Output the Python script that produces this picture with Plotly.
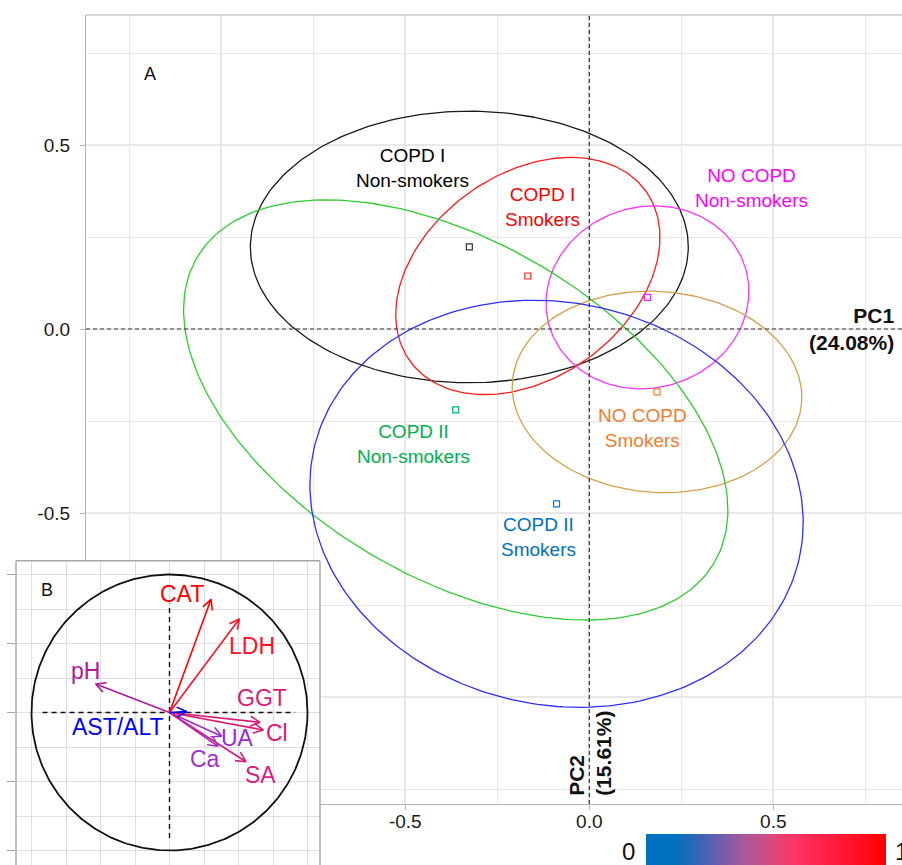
import numpy as np
import plotly.graph_objects as go

# ---------------- Panel A: PCA group summaries ----------------
group_labels = ["COPD I<br>Non-smokers", "COPD I<br>Smokers", "NO COPD<br>Non-smokers",
                "NO COPD<br>Smokers", "COPD II<br>Non-smokers", "COPD II<br>Smokers"]
pc1_centroid = [-0.326, -0.167, 0.158, 0.184, -0.363, -0.089]
pc2_centroid = [0.223, 0.144, 0.086, -0.171, -0.220, -0.475]
ellipse_major = [0.595, 0.395, 0.278, 0.394, 0.816, 0.676]
ellipse_minor = [0.369, 0.277, 0.246, 0.273, 0.455, 0.546]
ellipse_angle_deg = [0.0, 35.8, 16.0, -4.0, -30.6, -12.8]

axis_tick_vals = [-1.0, -0.5, 0.0, 0.5]
axis_tick_text = ["", "-0.5", "0.0", "0.5"]
variance_pc1 = "24.08%"
variance_pc2 = "15.61%"

# ---------------- Panel B: variable loadings ----------------
variables = ["CAT", "LDH", "pH", "GGT", "Cl", "UA", "Ca", "SA", "AST/ALT"]
load_pc1 = [0.301, 0.506, -0.535, 0.656, 0.680, 0.378, 0.352, 0.554, 0.125]
load_pc2 = [0.820, 0.678, 0.207, -0.071, -0.127, -0.172, -0.245, -0.357, 0.006]
contrib_range = [0, 1]

# ---------------- styling ----------------
FONT = "Liberation Sans, Arial, sans-serif"
ellipse_colors = ["#1a1a1a", "#FF1A1A", "#FF33FF", "#D4A04A", "#2ECC2E", "#2E2EFF"]
label_colors = ["#000000", "#FF0000", "#FF00FF", "#F07D2E", "#00B050", "#0070C0"]
point_colors = ["#333333", "#FF2020", "#FF20FF", "#F08030", "#00B070", "#0080D0"]
label_x = [-0.4815, -0.127, 0.441, 0.145, -0.4775, -0.137]
label_y = [0.437, 0.332, 0.382, -0.269, -0.312, -0.564]

var_colors = ["#FF0000", "#FF1028", "#B0189E", "#D81B78", "#E0186C", "#9A2CD0",
              "#A030D0", "#D81E80", "#0000FF"]
var_label_x = [0.088, 0.601, -0.612, 0.672, 0.779, 0.496, 0.259, 0.659, -0.375]
var_label_y = [0.861, 0.484, 0.303, 0.103, -0.150, -0.187, -0.338, -0.453, -0.103]

cbar_scale = [[0.0, "#0070C0"], [0.12, "#0070C0"], [0.25, "#4A62B2"], [0.4, "#A55AA0"],
              [0.52, "#D84A80"], [0.62, "#FF3366"], [0.8, "#FF1A3A"], [1.0, "#FF0000"]]

W, H = 902, 865
MAIN_L, MAIN_T, MAIN_B = 86, 15, 804
INS_L, INS_R, INS_T = 16, 320, 560.7

fig = go.Figure()

# confidence ellipses and centroids
t = np.linspace(0, 2 * np.pi, 241)
for i in range(len(group_labels)):
    th = np.deg2rad(ellipse_angle_deg[i])
    a, b = ellipse_major[i], ellipse_minor[i]
    ex = pc1_centroid[i] + a * np.cos(t) * np.cos(th) - b * np.sin(t) * np.sin(th)
    ey = pc2_centroid[i] + a * np.cos(t) * np.sin(th) + b * np.sin(t) * np.cos(th)
    fig.add_trace(go.Scatter(x=ex, y=ey, mode="lines",
                             line=dict(color=ellipse_colors[i], width=1.3),
                             hoverinfo="skip", xaxis="x", yaxis="y"))
    fig.add_trace(go.Scatter(x=[pc1_centroid[i]], y=[pc2_centroid[i]], mode="markers",
                             marker=dict(symbol="square-open", size=6,
                                         color=point_colors[i], line=dict(width=1.2)),
                             xaxis="x", yaxis="y"))
    fig.add_annotation(x=label_x[i], y=label_y[i], xref="x", yref="y",
                       text=group_labels[i], showarrow=False, align="center",
                       font=dict(family=FONT, size=19, color=label_colors[i]))

# correlation circle
tc = np.linspace(0, 2 * np.pi, 361)
fig.add_trace(go.Scatter(x=np.cos(tc), y=np.sin(tc), mode="lines",
                         line=dict(color="#111111", width=1.8),
                         hoverinfo="skip", xaxis="x2", yaxis="y2"))
fig.add_trace(go.Scatter(x=[-0.92, 0.91], y=[0, 0], mode="lines",
                         line=dict(color="#111111", width=1.4, dash="5px,4px"),
                         hoverinfo="skip", xaxis="x2", yaxis="y2"))
fig.add_trace(go.Scatter(x=[0, 0], y=[-0.91, 0.79], mode="lines",
                         line=dict(color="#111111", width=1.4, dash="5px,4px"),
                         hoverinfo="skip", xaxis="x2", yaxis="y2"))

# loading arrows with open heads
head_len, head_ang = 0.08, np.deg2rad(27)
for i, v in enumerate(variables):
    tx, ty = load_pc1[i], load_pc2[i]
    d = np.arctan2(ty, tx)
    h1 = (tx - head_len * np.cos(d - head_ang), ty - head_len * np.sin(d - head_ang))
    h2 = (tx - head_len * np.cos(d + head_ang), ty - head_len * np.sin(d + head_ang))
    fig.add_trace(go.Scatter(x=[0, tx, None, h1[0], tx, h2[0]],
                             y=[0, ty, None, h1[1], ty, h2[1]], mode="lines",
                             line=dict(color=var_colors[i], width=1.6),
                             hoverinfo="skip", xaxis="x2", yaxis="y2"))
    fig.add_annotation(x=var_label_x[i], y=var_label_y[i], xref="x2", yref="y2",
                       text=v, showarrow=False,
                       font=dict(family=FONT, size=23, color=var_colors[i]))

# colour key for the loadings
fig.add_trace(go.Scatter(
    x=[0, 0], y=[0, 0], mode="markers", xaxis="x2", yaxis="y2", hoverinfo="skip",
    marker=dict(size=1, opacity=0, color=contrib_range, colorscale=cbar_scale,
                cmin=contrib_range[0], cmax=contrib_range[1], showscale=True,
                colorbar=dict(orientation="h", x=766 / W, xanchor="center",
                              len=240 / W, lenmode="fraction", y=1 - 834 / H,
                              yanchor="top", thickness=40, xpad=0, ypad=0,
                              outlinewidth=0, showticklabels=False, ticks=""))))

fig.add_annotation(x=628.7 / W, y=1 - 851 / H, xref="paper", yref="paper",
                   text=str(contrib_range[0]), showarrow=False, xanchor="center",
                   yanchor="middle", font=dict(family=FONT, size=24, color="#111111"))
fig.add_annotation(x=893 / W, y=1 - 851 / H, xref="paper", yref="paper",
                   text=str(contrib_range[1]), showarrow=False, xanchor="left",
                   yanchor="middle", font=dict(family=FONT, size=24, color="#111111"))

# axis titles placed on the dashed reference lines
fig.add_annotation(x=897 / W, y=0, xref="paper", yref="y",
                   text=f"<b>PC1</b><br><b>({variance_pc1})</b>", showarrow=False,
                   xanchor="right", yanchor="middle", align="right",
                   font=dict(family=FONT, size=21, color="#111111"))
fig.add_annotation(x=0, y=(329 - 798) / 368, xref="x", yref="y",
                   text=f"<b>PC2</b><br><b>({variance_pc2})</b>", showarrow=False,
                   textangle=-90, xanchor="center", yanchor="bottom", align="left",
                   font=dict(family=FONT, size=21, color="#111111"))

# panel letters
fig.add_annotation(x=-1.195, y=0.694, xref="x", yref="y", text="A", showarrow=False,
                   font=dict(family=FONT, size=18, color="#111111"))
fig.add_annotation(x=-0.888, y=0.888, xref="x2", yref="y2", text="B", showarrow=False,
                   font=dict(family=FONT, size=18, color="#111111"))

shapes = [
    # dashed zero lines of panel A
    dict(type="line", xref="x domain", yref="y", x0=0, x1=1, y0=0, y1=0,
         line=dict(color="#333333", width=1.2, dash="4px,3px"), layer="above"),
    dict(type="line", xref="x", yref="y domain", x0=0, x1=0, y0=0, y1=1,
         line=dict(color="#333333", width=1.2, dash="4px,3px"), layer="above"),
    # top border of panel A
    dict(type="line", xref="x domain", yref="y domain", x0=0, x1=1, y0=1, y1=1,
         line=dict(color="#B3B3B3", width=1.2), layer="above"),
    # border of panel B
    dict(type="line", xref="x2 domain", yref="y2 domain", x0=0, x1=0, y0=0, y1=1,
         line=dict(color="#A6A6A6", width=1.4), layer="above"),
    dict(type="line", xref="x2 domain", yref="y2 domain", x0=0, x1=1, y0=1, y1=1,
         line=dict(color="#A6A6A6", width=1.4), layer="above"),
    dict(type="line", xref="x2 domain", yref="y2 domain", x0=1, x1=1, y0=0, y1=1,
         line=dict(color="#A6A6A6", width=1.4), layer="above"),
]

grid_main = "#E8E8E8"
grid_inset = "#DEDEDE"
tick_font = dict(family=FONT, size=19, color="#1a1a1a")
fig.update_layout(
    width=W, height=H, margin=dict(l=0, r=0, t=0, b=0, autoexpand=False),
    paper_bgcolor="white", plot_bgcolor="white", showlegend=False,
    font=dict(family=FONT),
    shapes=shapes,
    xaxis=dict(domain=[MAIN_L / W, 1], range=[-(589.3 - MAIN_L) / 368, (W - 589.3) / 368],
               tickvals=axis_tick_vals, ticktext=axis_tick_text, ticks="outside",
               ticklen=5, tickcolor="#B3B3B3", tickwidth=1.2, tickfont=tick_font,
               ticklabelstandoff=-5,
               showgrid=True, gridcolor=grid_main, gridwidth=1.5, zeroline=False,
               showline=True, linecolor="#B3B3B3", linewidth=1.2,
               minor=dict(tickmode="linear", tick0=0, dtick=0.25, showgrid=True,
                          gridcolor=grid_main, gridwidth=1.3, ticks=""),
               anchor="y", fixedrange=True),
    yaxis=dict(domain=[1 - MAIN_B / H, 1 - MAIN_T / H],
               range=[-(MAIN_B - 329) / 368, (329 - MAIN_T) / 368],
               tickvals=axis_tick_vals, ticktext=axis_tick_text, ticks="outside",
               ticklen=5, tickcolor="#B3B3B3", tickwidth=1.2, tickfont=tick_font,
               ticklabelstandoff=6,
               showgrid=True, gridcolor=grid_main, gridwidth=1.5, zeroline=False,
               showline=True, linecolor="#B3B3B3", linewidth=1.2,
               minor=dict(tickmode="linear", tick0=0, dtick=0.25, showgrid=True,
                          gridcolor=grid_main, gridwidth=1.3, ticks=""),
               anchor="x", fixedrange=True),
    xaxis2=dict(domain=[INS_L / W, INS_R / W],
                range=[(INS_L - 169.5) / 138, (INS_R - 169.5) / 138],
                tickmode="linear", tick0=0, dtick=0.5, showticklabels=False, ticks="",
                showgrid=True, gridcolor=grid_inset, gridwidth=1.4, zeroline=False,
                showline=False,
                minor=dict(tickmode="linear", tick0=0, dtick=0.25, showgrid=True,
                           gridcolor=grid_inset, gridwidth=1.2, ticks=""),
                anchor="y2", fixedrange=True),
    yaxis2=dict(domain=[0, 1 - INS_T / H],
                range=[(712.5 - H) / 138, (712.5 - INS_T) / 138],
                tickmode="linear", tick0=0, dtick=0.5, showticklabels=False,
                ticks="outside", ticklen=8, tickcolor="#A6A6A6", tickwidth=1.3,
                showgrid=True, gridcolor=grid_inset, gridwidth=1.4, zeroline=False,
                showline=False,
                minor=dict(tickmode="linear", tick0=0, dtick=0.25, showgrid=True,
                           gridcolor=grid_inset, gridwidth=1.2, ticks=""),
                anchor="x2", fixedrange=True),
)

fig.write_html("out.html")
